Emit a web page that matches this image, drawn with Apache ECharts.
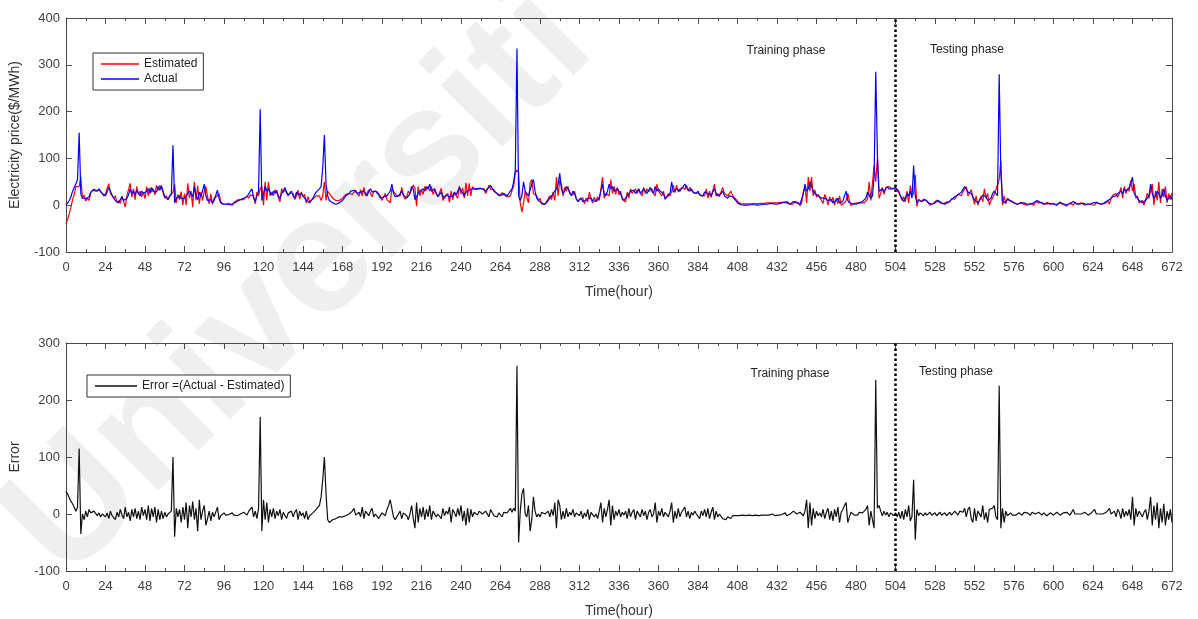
<!DOCTYPE html>
<html>
<head>
<meta charset="utf-8">
<script src="https://cdn.jsdelivr.net/npm/echarts@6/dist/echarts.min.js"></script>
<style>
  html, body { margin: 0; padding: 0; background: #fff; }
  #chart { width: 1198px; height: 619px; }
</style>
</head>
<body>
<div id="chart"></div>
<script>
// 实际电价 (Actual), one value per hour, 0..672
var actual = [].concat(
  [0, 5, 10, 18, 30, 38, 45, 55, 155, 25, 15, 12, 14, 10, 18, 28, 32, 34, 33, 30, 35, 32, 25, 22],
  [20, 28, 38, 30, 22, 15, 10, 8, 5, 12, 18, 10, 8, 15, 22, 35, 25, 30, 22, 32, 28, 20, 30, 25],
  [22, 30, 35, 25, 38, 30, 34, 28, 40, 32, 42, 30, 18, 15, 12, 20, 25, 128, 5, 15, 18, 20, 14, 12],
  [15, 20, 22, 30, 25, 18, 40, 20, 12, 28, 18, 15, 45, 20, 10, 8, 12, 5, 10, 8, 32, 15, 5, 3],
  [2, 0, 2, 3, 1, 2, 4, 6, 8, 10, 12, 14, 15, 14, 18, 20, 30, 35, 15, 8, 20, 30, 205, 10],
  [25, 40, 30, 35, 28, 22, 30, 25, 32, 20, 15, 25, 30, 38, 28, 22, 25, 30, 20, 15, 28, 22, 18, 25],
  [20, 15, 10, 8, 5, 10, 15, 22, 28, 30, 35, 40, 80, 150, 45, 20, 10, 8, 5, 3, 2, 3, 5, 8],
  [10, 15, 20, 18, 25, 30, 28, 32, 30, 25, 22, 28, 32, 30, 25, 20, 30, 35, 28, 25, 30, 32, 22, 15],
  [12, 18, 22, 20, 25, 30, 45, 25, 18, 15, 20, 25, 30, 22, 18, 15, 20, 25, 40, 35, 12, 18, 25, 30],
  [28, 35, 30, 40, 35, 45, 30, 28, 35, 25, 18, 22, 28, 20, 15, 22, 25, 18, 15, 20, 28, 22, 25, 38],
  [40, 25, 20, 28, 30, 32, 28, 35, 38, 35, 32, 36, 38, 35, 32, 30, 35, 38, 42, 45, 30, 28, 25, 22],
  [20, 22, 25, 22, 20, 25, 30, 35, 50, 75, 335, 20, 10, 20, 50, 30, 25, 20, 18, 45, 55, 30, 15, 10],
  [10, 5, 3, 2, 5, 10, 15, 20, 25, 30, 35, 45, 68, 35, 25, 30, 40, 35, 28, 20, 30, 25, 15, 8],
  [10, 15, 8, 5, 10, 15, 18, 15, 10, 12, 8, 10, 15, 30, 45, 25, 20, 30, 45, 35, 40, 30, 28, 35],
  [30, 25, 15, 10, 12, 20, 25, 30, 28, 32, 25, 30, 35, 25, 28, 35, 30, 25, 32, 38, 30, 25, 40, 30],
  [35, 30, 30, 25, 15, 12, 20, 25, 50, 28, 32, 35, 38, 30, 35, 40, 45, 38, 35, 30, 35, 28, 30, 25],
  [30, 22, 25, 20, 28, 30, 25, 22, 20, 28, 35, 25, 20, 18, 25, 30, 20, 18, 15, 20, 22, 18, 15, 10],
  [5, 2, 1, 0, 0, 1, 0, 0, 1, 2, 1, 0, 0, 1, 1, 2, 2, 3, 2, 3, 4, 5, 3, 2],
  [2, 3, 4, 5, 6, 8, 5, 3, 2, 5, 8, 10, 5, 3, 2, 5, 25, 45, 30, 35, 50, 40, 30, 25],
  [22, 20, 18, 15, 12, 15, 18, 10, 8, 12, 5, 8, 10, 15, 5, 3, 8, 20, 30, 10, 5, 2, 3, 2],
  [2, 3, 5, 5, 8, 10, 15, 28, 30, 15, 20, 60, 285, 110, 30, 30, 35, 28, 35, 40, 35, 38, 35, 36],
  [38, 35, 30, 20, 15, 8, 15, 25, 20, 30, 15, 85, 20, 5, 10, 12, 8, 10, 12, 8, 5, 3, 2, 4],
  [5, 8, 10, 8, 5, 3, 2, 4, 6, 10, 12, 15, 18, 20, 22, 25, 28, 32, 40, 35, 28, 32, 25, 18],
  [12, 8, 5, 10, 15, 22, 25, 18, 10, 8, 15, 25, 30, 28, 20, 280, 70, 10, 5, 8, 12, 15, 10, 8],
  [5, 3, 2, 3, 5, 6, 5, 3, 2, 1, 2, 3, 5, 8, 10, 8, 6, 4, 3, 2, 3, 5, 4, 3],
  [2, 1, 2, 3, 5, 4, 3, 2, 1, 2, 3, 5, 8, 5, 3, 2, 3, 5, 4, 3, 2, 1, 2, 3],
  [5, 8, 6, 4, 3, 2, 3, 5, 8, 10, 12, 15, 18, 22, 20, 25, 28, 30, 25, 35, 30, 32, 38, 42],
  [60, 25, 25, 15, 10, 8, 5, 3, 10, 15, 20, 45, 25, 15, 20, 30, 25, 15, 20, 35, 20, 10, 15, 20],
  [12]
);

// 误差 Error = Actual - Estimated, one value per hour
var error = [].concat(
  [40, 35, 28, 22, 18, 15, 5, 12, 115, -35, 0, -10, 5, -5, 8, 2, 0, 5, 3, -3, 2, -5, 0, 3],
  [-5, 2, -8, 5, -3, 0, -10, 3, -5, 8, -2, -8, 12, -5, 3, -12, 8, -5, 10, -8, 5, -10, 12, -3],
  [8, -10, 15, -12, 10, -5, 12, -15, 8, -10, 5, -8, 3, -5, 0, 2, 5, 100, -40, 10, -5, 8, -15, 12],
  [-10, 20, -25, 15, -5, 22, -10, 10, -30, 25, -10, 5, 15, -20, -8, 5, -12, 3, -5, -8, 12, -10, -3, 0],
  [2, -2, 1, -1, 0, 2, -2, 0, -3, -2, 0, 2, 3, 0, -2, 5, 8, 12, -5, 5, -8, 10, 170, -30],
  [25, -10, 20, -15, 8, -5, 10, -8, 5, -3, 8, -10, 3, 5, -8, 2, 0, 5, -5, 3, 8, -10, 5, -3],
  [2, -8, 5, -10, -3, 0, 2, 5, 8, 10, 15, 30, 60, 100, 35, -10, -15, -12, -10, -8, -8, -6, -5, -5],
  [-5, -3, -3, -2, 0, 2, 5, 10, -2, 0, 3, -5, 12, -8, 5, 2, -3, 5, 10, -5, 0, 3, -8, -5],
  [2, 5, -3, 8, 15, 25, 10, -5, -10, -5, 0, 5, -8, 2, 5, -3, -10, 0, 15, -8, -25, 20, -15, 10],
  [-5, 12, -10, 8, -5, 15, -10, 5, 3, -5, 0, 2, -8, 10, -3, 5, 0, 12, -15, 8, 2, -5, 10, -3],
  [15, -12, 5, -20, 10, -15, 8, -5, 3, 0, -2, 5, 2, 0, -3, 5, 2, -5, 8, 10, -3, 0, -5, 2],
  [0, -5, 3, 0, 2, 5, 10, 3, 10, 5, 260, -50, 5, 35, 45, 0, -5, 15, -30, -10, 30, 5, -5, 0],
  [-5, 3, 2, 0, -3, 5, -5, 8, -3, 20, -25, 25, 15, -10, 5, -8, 10, -5, 3, -2, 8, -5, 2, 0],
  [-3, 5, -8, 2, -5, 8, -10, 3, 5, -5, 0, -8, 5, 20, -15, 10, -5, 8, 25, -20, 15, -10, 5, -3],
  [8, -5, 3, -2, 5, -8, 10, -5, 3, 8, -10, 5, 2, -5, 8, -3, 5, -10, 3, 8, -5, 0, 20, -15],
  [5, -3, 10, -5, 3, 0, -5, 5, 20, -15, 5, -8, 10, -5, 3, 2, 12, -5, 5, -8, 3, -2, 5, 0],
  [3, -8, 5, -3, 8, -5, 10, -8, 3, 12, -10, 5, -5, 0, 3, -8, -5, -10, -5, -3, -8, -3, -5, -3],
  [-3, -3, -2, -2, -3, -3, -3, -2, -2, -3, -3, -2, -3, -3, -3, -2, -2, -2, -3, -2, -1, 0, -2, -3],
  [-3, -2, -2, -1, 0, 2, -3, -2, 0, 3, 5, 2, 0, -2, 3, 0, -3, 5, 25, -25, 20, -20, 10, -8],
  [5, -3, 2, -5, 8, -8, 3, 10, -10, 5, -12, 8, -5, 12, -15, 3, 8, 15, 20, -15, -5, 3, 0, -2],
  [0, -2, 3, 0, 2, 5, 8, 15, -20, 5, 8, -25, 235, 10, 15, 5, -3, 5, -2, 3, -5, 2, 0, -3],
  [2, -5, 3, -8, 5, -10, 8, -5, 15, -12, -5, 60, -45, 8, -3, 2, 0, -3, 2, -2, 0, 3, -2, 0],
  [2, -3, 0, 3, -2, 0, 2, -3, 0, 3, -2, 0, 5, 3, -2, 5, 8, 3, 10, -5, 8, 12, -8, -15],
  [10, -12, 5, 8, -5, 15, -10, 3, -15, 8, 5, 10, 15, -5, -10, 225, -25, 10, -15, 5, -3, 0, 2, -2],
  [0, -2, 0, 2, 0, -2, 3, 0, 2, 0, -2, 3, 5, 0, -2, 3, 0, -2, 2, 0, -3, 0, 2, 0],
  [-2, 0, 3, 0, -2, 0, 2, 0, 3, 0, -2, 0, 8, 0, -3, 0, 2, 0, -2, 3, 0, -2, 0, 2],
  [0, 8, 0, -3, 0, 2, 0, -2, 3, 0, 10, 0, -3, 5, -5, 8, 3, -8, 10, -5, 5, -3, 8, -10],
  [30, -20, 10, -5, 5, 0, -5, 3, 8, -10, 5, 30, -20, 15, -10, 20, -25, 10, -15, 18, -20, 5, -10, 8],
  [-15]
);

var splitHour = 504;          // 训练/测试分界
var xTickStep = 24;
var yTicksTop = [-100, 400];
var yTicksBottom = [-100, 300];

// Estimated = Actual - Error
var estimated = actual.map(function (v, i) { return v - error[i]; });

function pairs(arr) {
  return arr.map(function (v, i) { return [i, v]; });
}

var font = 'Liberation Sans, Arial, sans-serif';
var axisColor = '#4a4a4a';

function xAx(grid, pos, labels) {
  return {
    type: 'value', gridIndex: grid, position: pos,
    min: 0, max: 672, interval: xTickStep,
    name: labels ? 'Time(hour)' : '',
    nameLocation: 'middle', nameGap: 33,
    nameTextStyle: { fontFamily: font, fontSize: 14, color: '#333' },
    axisLine: { show: true, onZero: false, lineStyle: { color: axisColor, width: 1 } },
    axisTick: { show: true, inside: true, length: 6, lineStyle: { color: axisColor } },
    minorTick: { show: true, splitNumber: 2, length: 3, lineStyle: { color: axisColor } },
    axisLabel: { show: labels, margin: 9, fontFamily: font, fontSize: 13, color: '#404040' },
    splitLine: { show: false }
  };
}

function yAx(grid, pos, range, name) {
  return {
    type: 'value', gridIndex: grid, position: pos,
    min: range[0], max: range[1], interval: 100,
    name: name || '', nameLocation: 'middle', nameGap: 44,
    nameTextStyle: { fontFamily: font, fontSize: 14, color: '#333' },
    axisLine: { show: true, onZero: false, lineStyle: { color: axisColor, width: 1 } },
    axisTick: { show: true, inside: true, length: 6, lineStyle: { color: axisColor } },
    axisLabel: { show: !!name, margin: 6, fontFamily: font, fontSize: 13, color: '#404040' },
    splitLine: { show: false }
  };
}

var splitMark = {
  silent: true, symbol: 'none',
  label: { show: false },
  lineStyle: { color: '#000', type: 'dotted', width: 2.5 },
  data: [{ xAxis: splitHour }]
};

function phaseText(x, y, txt) {
  return {
    type: 'text', x: x, y: y, z: 10,
    style: { text: txt, fontFamily: font, fontSize: 12, fill: '#222', align: 'center', verticalAlign: 'middle' }
  };
}

var myChart = echarts.init(document.getElementById('chart'));

var option = {
  backgroundColor: '#fff',
  animation: false,
  grid: [
    { left: 64, right: 26, top: 18, height: 234 },
    { left: 64, right: 26, top: 343, height: 233 }
  ],
  xAxis: [xAx(0, 'bottom', true), xAx(0, 'top', false), xAx(1, 'bottom', true), xAx(1, 'top', false)],
  yAxis: [
    yAx(0, 'left', yTicksTop, 'Electricity price($/MWh)'), yAx(0, 'right', yTicksTop),
    yAx(1, 'left', yTicksBottom, 'Error'), yAx(1, 'right', yTicksBottom)
  ],
  legend: [
    {
      data: ['Estimated', 'Actual'], orient: 'vertical', left: 93, top: 53,
      icon: 'rect', itemWidth: 38, itemHeight: 1.5, itemGap: 3,
      padding: [5, 6, 5, 8],
      borderColor: '#333', borderWidth: 1, backgroundColor: '#fff',
      textStyle: { fontFamily: font, fontSize: 12, color: '#222' }
    },
    {
      data: ['Error =(Actual - Estimated)'], left: 87, top: 375,
      icon: 'rect', itemWidth: 42, itemHeight: 1.5,
      padding: [5, 6, 5, 8],
      borderColor: '#333', borderWidth: 1, backgroundColor: '#fff',
      textStyle: { fontFamily: font, fontSize: 12, color: '#222' }
    }
  ],
  graphic: [
    {
      type: 'text', x: 300, y: 285, rotation: Math.PI / 4, z: -10, silent: true,
      style: { text: 'Universiti', fontFamily: font, fontWeight: 'bold', fontSize: 165,
        fill: 'rgba(190,190,190,0.24)', align: 'center', verticalAlign: 'middle' }
    },
    phaseText(786, 51, 'Training phase'),
    phaseText(967, 50, 'Testing phase'),
    phaseText(790, 374, 'Training phase'),
    phaseText(956, 372, 'Testing phase')
  ],
  series: [
    {
      name: 'Estimated', type: 'line', xAxisIndex: 0, yAxisIndex: 0,
      data: pairs(estimated), symbol: 'none', color: '#ff0000',
      lineStyle: { width: 1.2, color: '#ff0000' }
    },
    {
      name: 'Actual', type: 'line', xAxisIndex: 0, yAxisIndex: 0,
      data: pairs(actual), symbol: 'none', color: '#0000ff',
      lineStyle: { width: 1.2, color: '#0000ff' },
      markLine: splitMark
    },
    {
      name: 'Error =(Actual - Estimated)', type: 'line', xAxisIndex: 2, yAxisIndex: 2,
      data: pairs(error), symbol: 'none', color: '#111',
      lineStyle: { width: 1.2, color: '#111' },
      markLine: splitMark
    }
  ]
};

myChart.setOption(option);
</script>
</body>
</html>
